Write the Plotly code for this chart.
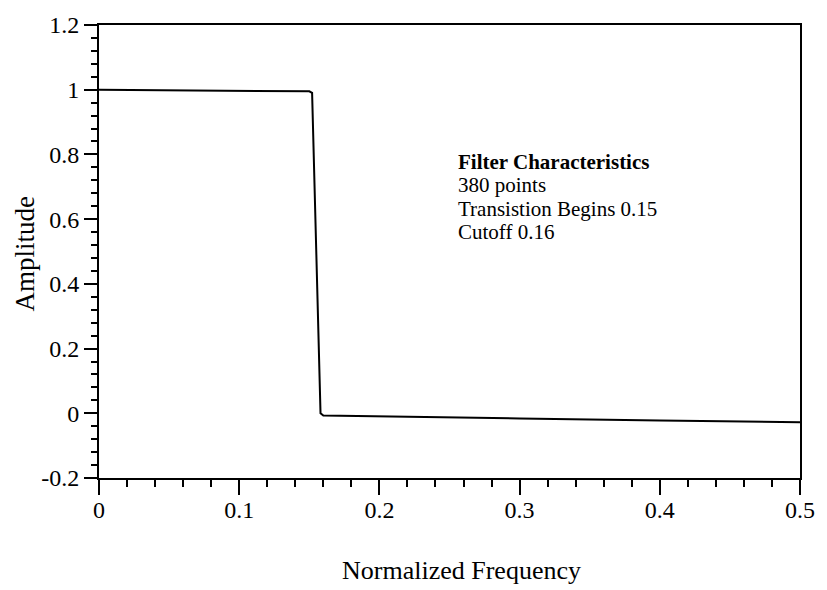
import plotly.graph_objects as go

# Data
freq = [0.0, 0.05, 0.10, 0.15, 0.152, 0.158, 0.16, 0.20, 0.30, 0.40, 0.50]
amplitude = [1.0, 0.999, 0.997, 0.995, 0.99, 0.0, -0.007, -0.01, -0.016, -0.022, -0.028]

x_tick_vals = [0, 0.1, 0.2, 0.3, 0.4, 0.5]
x_tick_text = ["0", "0.1", "0.2", "0.3", "0.4", "0.5"]
y_tick_vals = [-0.2, 0, 0.2, 0.4, 0.6, 0.8, 1.0, 1.2]
y_tick_text = ["-0.2", "0", "0.2", "0.4", "0.6", "0.8", "1", "1.2"]

note_title = "Filter Characteristics"
note_lines = ["380 points", "Transistion Begins 0.15", "Cutoff 0.16"]

FONT = "Liberation Serif, Times New Roman, serif"

fig = go.Figure()
fig.add_trace(go.Scatter(x=freq, y=amplitude, mode="lines",
                         line=dict(color="black", width=2), showlegend=False))

fig.update_layout(
    width=827, height=590,
    margin=dict(l=99, r=19, t=18, b=112),
    paper_bgcolor="white", plot_bgcolor="white",
    font=dict(family=FONT, size=23, color="black"),
    showlegend=False,
)

fig.update_xaxes(
    range=[0, 0.5], tickmode="array", tickvals=x_tick_vals, ticktext=x_tick_text,
    showgrid=False, zeroline=False,
    showline=True, linecolor="black", linewidth=2, mirror=True,
    ticks="outside", ticklen=15, tickwidth=2, tickcolor="black",
    ticklabelstandoff=-6,
    minor=dict(tickmode="linear", tick0=0, dtick=0.02, ticks="outside",
               ticklen=7, tickwidth=1.5, tickcolor="black", showgrid=False),
    tickfont=dict(family=FONT, size=24),
)
fig.update_yaxes(
    range=[-0.2, 1.2], tickmode="array", tickvals=y_tick_vals, ticktext=y_tick_text,
    showgrid=False, zeroline=False,
    showline=True, linecolor="black", linewidth=2, mirror=True,
    ticks="outside", ticklen=13, tickwidth=2, tickcolor="black",
    minor=dict(tickmode="linear", tick0=0, dtick=0.04, ticks="outside",
               ticklen=6, tickwidth=1.5, tickcolor="black", showgrid=False),
    tickfont=dict(family=FONT, size=24),
)

# Axis titles
fig.add_annotation(text="Normalized Frequency", xref="paper", yref="paper",
                   x=0.5, y=0, xanchor="center", yanchor="middle",
                   xshift=12, yshift=-92, showarrow=False,
                   font=dict(family=FONT, size=26))
fig.add_annotation(text="Amplitude", xref="paper", yref="paper",
                   x=0, y=0.5, xanchor="center", yanchor="middle", textangle=-90,
                   xshift=-75, yshift=-2, showarrow=False,
                   font=dict(family=FONT, size=27))

# Note block
fig.add_annotation(text="<b>" + note_title + "</b>", xref="paper", yref="paper",
                   x=(460 - 99) / 709, y=(478 - 157) / 460, xanchor="left",
                   yanchor="middle", showarrow=False, font=dict(family=FONT, size=21))
for i, line in enumerate(note_lines):
    fig.add_annotation(text=line, xref="paper", yref="paper",
                       x=(460 - 99) / 709, y=(478 - 157) / 460, xanchor="left",
                       yanchor="middle", yshift=-23.5 * (i + 1), showarrow=False,
                       font=dict(family=FONT, size=21))

fig.write_html("out.html")
